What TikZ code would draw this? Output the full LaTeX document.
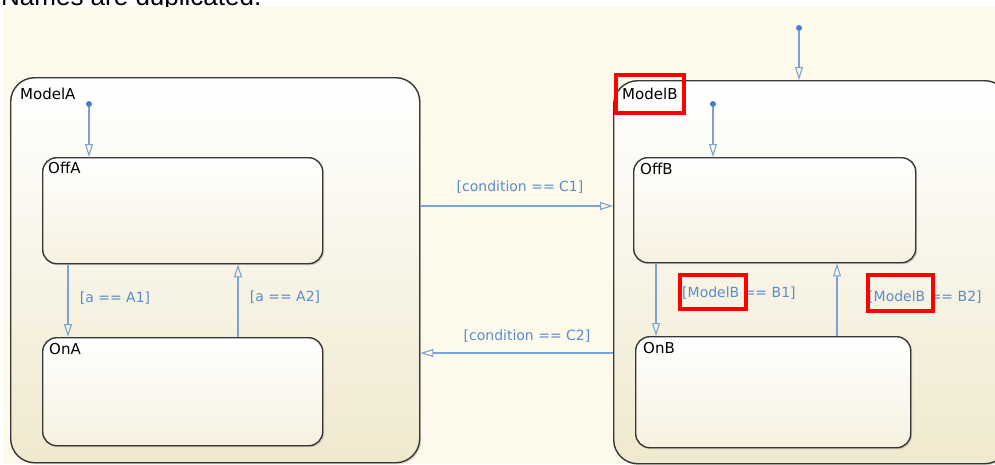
\documentclass[tikz,border=0pt]{standalone}
\usepackage{fontspec}
\setmainfont{DejaVu Sans}
\newfontfamily\headfont{Liberation Sans}
\usepackage{tikz}
\usetikzlibrary{arrows.meta, shadows, positioning}
\definecolor{bgcream}{RGB}{253,250,235}
\definecolor{chartcream}{RGB}{240,233,206}
\definecolor{statecream}{RGB}{246,241,224}
\definecolor{borderdark}{RGB}{55,55,55}
\definecolor{transblue}{RGB}{122,162,212}
\definecolor{labelblue}{RGB}{90,140,205}
\definecolor{dotblue}{RGB}{70,130,200}

\begin{document}
\begin{tikzpicture}[
        x=1pt, y=-1pt,
        chart/.style={draw=borderdark, line width=1.4pt, rounded corners=24pt,
                      top color=white, bottom color=chartcream, anchor=north west,
                      inner sep=0pt,
                      drop shadow={shadow xshift=1.5pt, shadow yshift=-1.5pt, opacity=0.3}},
        state/.style={draw=borderdark, line width=1.4pt, rounded corners=14pt,
                      top color=white, bottom color=statecream, anchor=north west,
                      inner sep=0pt,
                      drop shadow={shadow xshift=1.5pt, shadow yshift=-1.5pt, opacity=0.3}},
        statename/.style={anchor=north west, inner sep=0pt, font=\fontsize{15}{18}\selectfont},
        guard/.style={text=labelblue, inner sep=0pt, font=\fontsize{14}{17}\selectfont},
        trans/.style={draw=transblue, line width=1.1pt,
                      -{Triangle[open, length=13pt, width=8pt]}},
        initdot/.style={circle, fill=dotblue, inner sep=0pt, minimum size=6pt},
        highlight/.style={draw=red, line width=4pt}
      ]
        \useasboundingbox (0,0) rectangle (995,464);
        \fill[white] (0,0) rectangle (995,464);
        \node[anchor=base west, inner sep=0pt, font=\headfont\fontsize{26}{30}\selectfont]
          (headline) at (1,5) {Names are duplicated.};
        \fill[bgcream] (3,7) rectangle (995,464);
        \fill[gray!45] (22,181) circle (1.2);

        % charts
        \node[chart, minimum width=409pt, minimum height=385pt] (modelA) at (10,77) {};
        \node[chart, minimum width=395pt, minimum height=383pt] (modelB) at (613,80) {};
        \node[statename] at ([shift={(10,11)}]modelA.north west) {ModelA};
        \node[statename] at ([shift={(9,8)}]modelB.north west) {ModelB};

        % states
        \node[state, minimum width=280pt, minimum height=106pt] (offA) at (42,157) {};
        \node[state, minimum width=280pt, minimum height=108pt] (onA) at (42,337) {};
        \node[state, minimum width=282pt, minimum height=105pt] (offB) at (633,157) {};
        \node[state, minimum width=275pt, minimum height=111pt] (onB) at (635,336) {};
        \node[statename] at ([shift={(6,5)}]offA.north west) {OffA};
        \node[statename] at ([shift={(7,6)}]onA.north west) {OnA};
        \node[statename] at ([shift={(7,6)}]offB.north west) {OffB};
        \node[statename] at ([shift={(8,6)}]onB.north west) {OnB};

        % default transitions
        \node[initdot] (initA) at (89,104) {};
        \node[initdot] (initB) at (713,104) {};
        \node[initdot] (initTop) at (799,28) {};
        \draw[trans] (initA) -- (offA.north -| initA);
        \draw[trans] (initB) -- (offB.north -| initB);
        \draw[trans] (initTop) -- (modelB.north -| initTop);

        % transitions
        \coordinate (a1) at (68,0);
        \coordinate (a2) at (238,0);
        \coordinate (b1) at (656,0);
        \coordinate (b2) at (837,0);
        \coordinate (c1) at (0,206);
        \coordinate (c2) at (0,353);
        \draw[trans] (offA.south -| a1) -- (onA.north -| a1);
        \draw[trans] (onA.north -| a2) -- (offA.south -| a2);
        \draw[trans] (offB.south -| b1) -- (onB.north -| b1);
        \draw[trans] (onB.north -| b2) -- (offB.south -| b2);
        \draw[trans] (modelA.east |- c1) -- (modelB.west |- c1);
        \draw[trans] (modelB.west |- c2) -- (modelA.east |- c2);

        % guards
        \node[guard] (gA1) at (115,298) {[a == A1]};
        \node[guard] (gA2) at (285,297) {[a == A2]};
        \node[guard] (gC1) at (520,187) {[condition == C1]};
        \node[guard] (gC2) at (527,336) {[condition == C2]};
        \node[guard, anchor=west] (gB1) at (682,293) {[ModelB == B1]};
        \node[guard, anchor=west] (gB2) at (868,297) {[ModelB == B2]};

        % red marks
        \draw[highlight] (616,75) rectangle (684,113);
        \draw[highlight] (680,275) rectangle (746,309);
        \draw[highlight] (868,275) rectangle (933,311);
      \end{tikzpicture}
\end{document}
